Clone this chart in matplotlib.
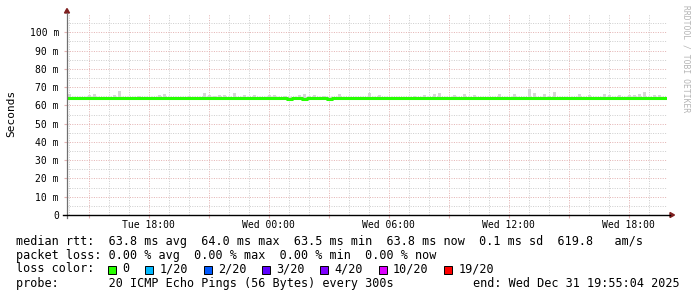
import numpy as np
import matplotlib
matplotlib.use("Agg")
import matplotlib.pyplot as plt
from matplotlib.patches import Polygon, Rectangle
from matplotlib.lines import Line2D
from matplotlib.ticker import FixedLocator, FuncFormatter

# time axis: hours since Tue 00:00, 15 minute bins
t_start = 13 + 55 / 60
t_end = 43 + 55 / 60
bin_h = 0.25

# median rtt per bin (ms)
median = np.array([
    63.8, 63.8, 63.8, 63.8, 63.8, 63.8, 63.8, 63.8, 64.1, 64.1,
    64.1, 64.1, 63.8, 63.8, 64.1, 64.1, 64.1, 64.1, 64.1, 64.1,
    64.1, 64.1, 64.1, 63.8, 64.1, 64.1, 63.8, 64.1, 64.1, 64.1,
    64.1, 63.8, 63.8, 63.8, 63.8, 63.8, 63.8, 63.8, 63.8, 63.8,
    63.8, 63.8, 63.8, 63.8, 63.6, 63.8, 63.8, 63.5, 63.8, 63.8,
    63.8, 63.8, 63.6, 63.8, 63.8, 63.8, 63.8, 63.8, 63.8, 63.8,
    63.8, 63.8, 63.8, 63.8, 63.8, 63.8, 63.8, 63.8, 63.8, 63.8,
    63.8, 63.8, 63.8, 63.8, 64.1, 64.1, 64.1, 64.1, 63.8, 63.8,
    63.8, 63.8, 63.8, 63.8, 64.1, 64.1, 64.1, 64.1, 64.1, 64.1,
    64.1, 63.8, 64.1, 64.1, 63.8, 63.8, 63.8, 64.1, 64.1, 64.1,
    63.8, 63.8, 63.8, 63.8, 64.1, 64.1, 64.1, 64.1, 63.8, 63.8,
    64.1, 63.8, 63.8, 64.1, 64.1, 64.1, 64.1, 63.8, 63.8, 63.8,
])

# top of the smoke (slowest ping) per bin (ms)
smoke_top = np.array([
    66.2, 64.4, 64.4, 64.4, 65.5, 66.2, 64.4, 64.4, 64.4, 65.5,
    67.9, 64.4, 64.4, 64.4, 65.0, 64.4, 64.4, 64.4, 65.5, 66.2,
    64.4, 64.4, 64.4, 64.4, 65.0, 64.4, 64.4, 66.8, 65.5, 65.0,
    65.5, 65.5, 64.4, 66.8, 64.4, 65.5, 64.4, 65.5, 64.4, 64.4,
    65.7, 65.7, 64.4, 65.0, 64.4, 64.4, 65.5, 66.2, 65.0, 65.7,
    64.4, 65.0, 64.4, 64.4, 66.2, 64.4, 64.4, 64.4, 64.4, 64.4,
    66.8, 64.4, 65.7, 64.4, 64.4, 64.4, 64.4, 64.4, 64.4, 65.0,
    64.4, 65.5, 64.4, 66.2, 66.8, 64.4, 64.4, 65.5, 64.4, 66.2,
    64.4, 65.7, 64.4, 64.4, 64.4, 64.4, 66.2, 64.4, 64.4, 66.2,
    64.4, 64.4, 69.1, 66.8, 64.4, 66.2, 65.0, 67.3, 64.4, 64.4,
    64.4, 64.4, 66.2, 64.4, 65.5, 64.4, 64.4, 66.2, 65.5, 64.4,
    65.5, 64.4, 65.5, 65.5, 66.2, 67.5, 64.4, 65.5, 65.5, 64.4,
])

rtt_stats = [("63.8", "avg"), ("64.0", "max"), ("63.5", "min"), ("63.8", "now")]
rtt_sd = "0.1"
rtt_am = "619.8"
loss_stats = [("0.00", "avg"), ("0.00", "max"), ("0.00", "min"), ("0.00", "now")]
loss_labels = ["0", "1/20", "2/20", "3/20", "4/20", "10/20", "19/20"]
loss_colors = ["#26ff00", "#00b8ff", "#0059ff", "#5e00ff", "#7e00ff", "#dd00ff", "#ff0000"]
probe_text = "20 ICMP Echo Pings (56 Bytes) every 300s"
end_text = "end: Wed Dec 31 19:55:04 2025"

W, H = 697, 297
MONO = "DejaVu Sans Mono"


def fx(x):
    return x / W


def fy(y):
    return 1 - y / H


fig = plt.figure(figsize=(W / 100, H / 100), dpi=100)
fig.patch.set_facecolor("white")
ax = fig.add_axes([fx(67), fy(215), 600 / W, 201 / H])

t_mid = t_start + (np.arange(len(median)) + 0.5) * bin_h
edges = t_start + np.arange(len(median) + 1) * bin_h

ax.bar(t_mid, smoke_top - median, bottom=median, width=0.17,
       color="#d6d6d6", linewidth=0, zorder=2)
ax.step(edges, np.r_[median, median[-1]], where="post", color="#26ff00",
        lw=2.2, solid_capstyle="butt", zorder=3)

ax.set_xlim(t_start, t_end)
ax.set_ylim(0, 110)

days = ["Tue", "Wed"]
ax.xaxis.set_major_locator(FixedLocator(np.arange(15, 44, 3)))
ax.xaxis.set_minor_locator(FixedLocator(np.arange(14, 44, 1)))
ax.xaxis.set_major_formatter(FuncFormatter(
    lambda v, p: f"{days[int(v) // 24]} {int(v) % 24:02d}:00" if int(v) % 6 == 0 else ""))
ax.yaxis.set_major_locator(FixedLocator(np.arange(0, 101, 10)))
ax.yaxis.set_minor_locator(FixedLocator(np.arange(5, 106, 10)))
ax.yaxis.set_major_formatter(FuncFormatter(lambda v, p: "0" if v == 0 else f"{int(v)} m"))

dots = (0, (1, 1.4))
ax.grid(which="major", color="#e4b4b4", ls=dots, lw=0.72, zorder=1)
ax.grid(which="minor", color="#cfcfcf", ls=dots, lw=0.72, zorder=1)
ax.tick_params(which="major", axis="y", length=2.2, color="#e4b4b4", pad=3.6)
ax.tick_params(which="major", axis="x", length=2.2, color="#e4b4b4", pad=1.2)
ax.tick_params(which="minor", length=0)
for lab in ax.get_xticklabels() + ax.get_yticklabels():
    lab.set_fontfamily(MONO)
    lab.set_fontsize(7)
for s in ax.spines.values():
    s.set_visible(False)

# axes with arrows
fig.add_artist(Line2D([fx(67), fx(67)], [fy(218), fy(13)], color="#707070", lw=0.9))
fig.add_artist(Line2D([fx(63), fx(670)], [fy(215), fy(215)], color="#000000", lw=1.0))
fig.add_artist(Polygon([[fx(64.5), fy(13)], [fx(69.5), fy(13)], [fx(67), fy(8.5)]],
                       closed=True, color="#7f1f1f", transform=fig.transFigure))
fig.add_artist(Polygon([[fx(670), fy(212.5)], [fx(670), fy(217.5)], [fx(674.5), fy(215)]],
                       closed=True, color="#7f1f1f", transform=fig.transFigure))

fig.text(fx(11), fy(113), "Seconds", rotation=90, ha="center", va="center",
         fontsize=8, family=MONO)
fig.text(fx(686), fy(59), "RRDTOOL / TOBI OETIKER", rotation=270, ha="center",
         va="center", fontsize=5.8, color="#b4b4b4", family=MONO)

# legend
cw = 7.11
x0 = 16
row_y = [241, 255, 269, 283.5]
fs = 8.5
row1 = "median rtt:  " + "  ".join(f"{v} ms {k}" for v, k in rtt_stats) + \
       f"  {rtt_sd} ms sd  {rtt_am}   am/s"
row2 = "packet loss: " + "  ".join(f"{v} % {k}" for v, k in loss_stats)
fig.text(fx(x0), fy(row_y[0]), row1, ha="left", va="center", fontsize=fs, family=MONO)
fig.text(fx(x0), fy(row_y[1]), row2, ha="left", va="center", fontsize=fs, family=MONO)
fig.text(fx(x0), fy(row_y[2]), "loss color:", ha="left", va="center", fontsize=fs, family=MONO)
col = 13.0
for lab, c in zip(loss_labels, loss_colors):
    sx = x0 + col * cw
    fig.add_artist(Rectangle((fx(sx), fy(row_y[2] + 4.5)), 8 / W, 8 / H, facecolor=c,
                             edgecolor="black", lw=0.7, transform=fig.transFigure))
    fig.text(fx(sx + 2.0 * cw), fy(row_y[2]), lab, ha="left", va="center",
             fontsize=fs, family=MONO)
    col += 2.0 + len(lab) + 2.2
fig.text(fx(x0), fy(row_y[3]), "probe:       " + probe_text, ha="left", va="center",
         fontsize=fs, family=MONO)
fig.text(fx(680), fy(row_y[3]), end_text, ha="right", va="center", fontsize=fs, family=MONO)

fig.savefig("out.png", dpi=100)
